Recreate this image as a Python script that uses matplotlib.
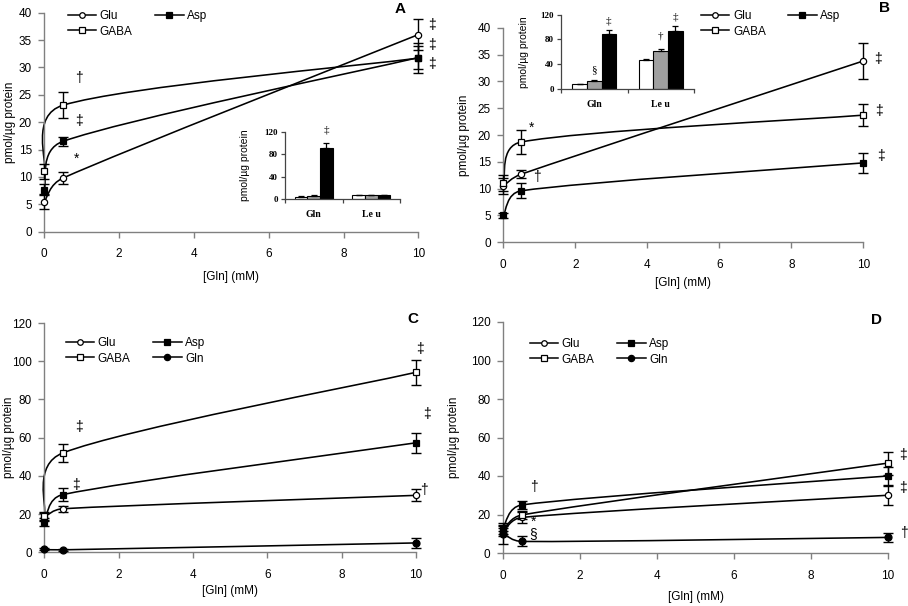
import numpy as np
import matplotlib
matplotlib.use("Agg")
import matplotlib.pyplot as plt
from matplotlib.path import Path
from matplotlib.patches import PathPatch
from matplotlib.lines import Line2D

plt.rcParams['font.family'] = ['Liberation Sans', 'DejaVu Sans']

# ---------------- data ----------------
gln_conc = [0, 0.5, 10]

A_glu = [5.5, 9.8, 36.0];   A_glu_err = [1.4, 1.1, 2.8]
A_asp = [7.7, 16.5, 31.8];  A_asp_err = [1.0, 0.8, 2.1]
A_gaba = [11.0, 23.1, 31.7]; A_gaba_err = [1.4, 2.4, 2.7]

B_glu = [10.5, 12.7, 33.8];  B_glu_err = [1.5, 0.8, 3.3]
B_asp = [5.0, 9.6, 14.8];    B_asp_err = [0.4, 1.4, 1.8]
B_gaba = [11.0, 18.7, 23.7]; B_gaba_err = [1.5, 2.3, 2.0]

C_glu = [18.5, 22.8, 29.8];  C_glu_err = [2.0, 1.5, 3.2]
C_asp = [16.0, 30.2, 57.3];  C_asp_err = [2.0, 3.4, 5.2]
C_gaba = [19.0, 52.0, 94.2]; C_gaba_err = [2.0, 4.7, 6.6]
C_gln = [1.5, 1.3, 4.9];     C_gln_err = [0.5, 0.5, 2.5]

D_glu = [11.0, 18.5, 30.0];  D_glu_err = [2.0, 2.8, 5.0]
D_asp = [13.0, 25.0, 40.0];  D_asp_err = [1.5, 2.0, 4.5]
D_gaba = [12.0, 19.8, 46.7]; D_gaba_err = [2.0, 2.0, 6.0]
D_gln = [10.0, 6.0, 8.1];    D_gln_err = [5.5, 2.6, 2.4]

inset_groups = ['Gln', 'Le u']
A_ins_white = [4.5, 7.5]; A_ins_white_err = [0.8, 0.4]
A_ins_gray = [6.0, 7.5];  A_ins_gray_err = [0.8, 0.4]
A_ins_black = [91.0, 7.5]; A_ins_black_err = [9.0, 0.4]
B_ins_white = [7.0, 47.0]; B_ins_white_err = [1.0, 1.0]
B_ins_gray = [13.0, 61.0]; B_ins_gray_err = [1.5, 3.5]
B_ins_black = [89.0, 94.0]; B_ins_black_err = [6.5, 7.0]

W, H = 908, 606
fig = plt.figure(figsize=(W / 100, H / 100), dpi=100)

SPINE = '#808080'
FS = 8.5


def rect(l, t, r, b):
    return [l / W, 1 - b / H, (r - l) / W, (b - t) / H]


def fx(px):
    return px / W


def fy(py):
    return 1 - py / H


def smooth_line(ax, x, y):
    pts = ax.transData.transform(np.column_stack([x, y]))
    n = len(pts)
    verts = [pts[0]]
    codes = [Path.MOVETO]
    for i in range(n - 1):
        p0 = pts[i - 1] if i > 0 else pts[i]
        p1 = pts[i]
        p2 = pts[i + 1]
        p3 = pts[i + 2] if i + 2 < n else pts[i + 1]
        d12 = np.linalg.norm(p2 - p1)
        d02 = np.linalg.norm(p2 - p0)
        d13 = np.linalg.norm(p3 - p1)
        f = 1 / 6 if d02 / 6 < d12 / 2 else (d12 / 2 / d02 if d02 > 0 else 0)
        f1 = 1 / 6 if d13 / 6 < d12 / 2 else (d12 / 2 / d13 if d13 > 0 else 0)
        c1 = p1 + (p2 - p0) * f
        c2 = p2 - (p3 - p1) * f1
        verts += [c1, c2, p2]
        codes += [Path.CURVE4] * 3
    verts = ax.transData.inverted().transform(np.array(verts))
    ax.add_patch(PathPatch(Path(verts, codes), fill=False, edgecolor='black',
                           lw=1.15, transform=ax.transData, clip_on=False, zorder=2))


STY = {
    'Glu': dict(marker='o', mfc='white', ms=4.5),
    'Asp': dict(marker='s', mfc='black', ms=5.0),
    'GABA': dict(marker='s', mfc='white', ms=4.8),
    'Gln': dict(marker='o', mfc='black', ms=5.0),
}


def series(ax, name, y, err):
    smooth_line(ax, gln_conc, y)
    ax.errorbar(gln_conc, y, yerr=err, fmt='none', ecolor='black', elinewidth=1.0,
                capsize=3.3, capthick=1.0, clip_on=False, zorder=3)
    s = STY[name]
    ax.plot(gln_conc, y, linestyle='none', marker=s['marker'], mfc=s['mfc'],
            mec='black', ms=s['ms'], mew=0.9, clip_on=False, zorder=4)


def setup_main(ax, ymax, ystep, xlabel_y, ylabel_x):
    ax.set_xlim(0, 10)
    ax.set_ylim(0, ymax)
    ax.set_xticks([0, 2, 4, 6, 8, 10])
    ax.set_yticks(np.arange(0, ymax + 0.1, ystep))
    ax.set_yticklabels([f"{int(v)}" for v in np.arange(0, ymax + 0.1, ystep)])
    for s in ['top', 'right']:
        ax.spines[s].set_visible(False)
    for s in ['left', 'bottom']:
        ax.spines[s].set_color(SPINE)
        ax.spines[s].set_linewidth(1.0)
    ax.tick_params(direction='out', length=4, width=1.0, color=SPINE, labelsize=FS)
    ax.tick_params(axis='x', pad=8)
    ax.tick_params(axis='y', pad=5)
    ax.set_xlabel('[Gln] (mM)', fontsize=FS)
    ax.set_ylabel('pmol/µg protein', fontsize=FS)
    pos = ax.get_position()
    xc = (pos.x0 + pos.x1) / 2
    yc = (pos.y0 + pos.y1) / 2
    ax.xaxis.set_label_coords(xc, fy(xlabel_y - 6), transform=fig.transFigure)
    ax.yaxis.set_label_coords(fx(ylabel_x + 6), yc, transform=fig.transFigure)
    ax.patch.set_visible(False)


def legend(ax, names, x, y):
    handles = []
    for nm in names:
        s = STY[nm]
        handles.append(Line2D([], [], color='black', lw=1.1, marker=s['marker'], mfc=s['mfc'],
                              mec='black', ms=s['ms'] - 0.5, mew=0.9))
    ax.legend(handles, names, ncol=2, frameon=False, fontsize=FS, loc='upper left',
              bbox_to_anchor=(x / W, 1 - y / H), bbox_transform=fig.transFigure,
              borderpad=0, borderaxespad=0, handlelength=2.4, handletextpad=0.3,
              labelspacing=0.3, columnspacing=1.9)


def annotate(ax, items, fs=10):
    for x, y, s in items:
        ax.text(x, y, s, fontsize=fs, ha='center', va='center', clip_on=False)


def inset(rc, white, werr, gray, gerr, black, berr, labels, ylabel_x):
    ax = fig.add_axes(rc)
    xs = np.arange(len(inset_groups))
    w = 0.22
    kw = dict(edgecolor='black', linewidth=0.8, error_kw=dict(elinewidth=0.9, capthick=0.9, ecolor='black'), capsize=2.5)
    z = [0, 0]
    ax.bar(xs - w, white, w, color='white', yerr=[z, werr], **kw)
    ax.bar(xs, gray, w, color='#a0a0a0', yerr=[z, gerr], **kw)
    ax.bar(xs + w, black, w, color='black', yerr=[z, berr], **kw)
    ax.set_xlim(-0.5, 1.5)
    ax.set_ylim(0, 120)
    ax.set_yticks([0, 40, 80, 120])
    ax.set_yticklabels(['0', '40', '80', '120'], family=['Liberation Serif', 'DejaVu Serif'],
                       fontweight='bold', fontsize=6.5)
    ax.set_xticks([-0.5, 0.5, 1.5])
    ax.set_xticklabels([])
    ax.set_xticks(xs, minor=True)
    ax.set_xticklabels(inset_groups, minor=True, family=['Liberation Serif', 'DejaVu Serif'],
                       fontweight='bold', fontsize=7)
    ax.tick_params(axis='x', which='minor', length=0, pad=8)
    ax.tick_params(axis='both', which='major', direction='out', length=3, width=0.9, color='#444444', pad=2)
    for s in ['top', 'right']:
        ax.spines[s].set_visible(False)
    for s in ['left', 'bottom']:
        ax.spines[s].set_color('#444444')
        ax.spines[s].set_linewidth(0.9)
    ax.set_ylabel('pmol/µg protein', fontsize=7.5)
    pos = ax.get_position()
    ax.yaxis.set_label_coords(fx(ylabel_x + 5), (pos.y0 + pos.y1) / 2, transform=fig.transFigure)
    ax.patch.set_visible(False)
    for gx, bx, y, s in labels:
        ax.text(gx + bx * w, y, s, fontsize=8, ha='center', va='center',
                family=['Liberation Serif', 'DejaVu Serif'])
    return ax


# ---------------- Panel A ----------------
axA = fig.add_axes(rect(44.3, 12.7, 418.3, 231.7))
setup_main(axA, 40, 5, 277, 10)
series(axA, 'Glu', A_glu, A_glu_err)
series(axA, 'GABA', A_gaba, A_gaba_err)
series(axA, 'Asp', A_asp, A_asp_err)
legend(axA, ['Glu', 'GABA', 'Asp'], 68, 10)
annotate(axA, [(0.93, 28.0, '†'), (0.93, 20.3, '‡'), (0.85, 13.4, '*'),
               (10.36, 37.7, '‡'), (10.36, 34.1, '‡'), (10.36, 30.6, '‡')])
fig.text(400 / W, 1 - 9 / H, 'A', fontsize=11, fontweight='bold', ha='center', va='center')
inset(rect(285, 131.7, 400, 199.3), A_ins_white, A_ins_white_err, A_ins_gray, A_ins_gray_err,
      A_ins_black, A_ins_black_err, [(0, 1, 123, '‡')], 245)

# ---------------- Panel B ----------------
axB = fig.add_axes(rect(503.3, 27.7, 863.3, 242.3))
setup_main(axB, 40, 5, 283, 464)
series(axB, 'Glu', B_glu, B_glu_err)
series(axB, 'GABA', B_gaba, B_gaba_err)
series(axB, 'Asp', B_asp, B_asp_err)
legend(axB, ['Glu', 'GABA', 'Asp'], 701, 10)
annotate(axB, [(0.79, 21.3, '*'), (0.93, 12.2, '†'),
               (10.4, 34.1, '‡'), (10.45, 24.5, '‡'), (10.5, 16.1, '‡')])
fig.text(884 / W, 1 - 8 / H, 'B', fontsize=11, fontweight='bold', ha='center', va='center')
inset(rect(561, 14.7, 694, 88.7), B_ins_white, B_ins_white_err, B_ins_gray, B_ins_gray_err,
      B_ins_black, B_ins_black_err,
      [(0, 1, 110, '‡'), (0, 0, 30, '§'), (1, 0, 86, '†'), (1, 1, 116, '‡')], 524)

# ---------------- Panel C ----------------
axC = fig.add_axes(rect(44.3, 323, 416, 552.3))
setup_main(axC, 120, 20, 591, 9)
series(axC, 'Glu', C_glu, C_glu_err)
series(axC, 'GABA', C_gaba, C_gaba_err)
series(axC, 'Asp', C_asp, C_asp_err)
series(axC, 'Gln', C_gln, C_gln_err)
legend(axC, ['Glu', 'GABA', 'Asp', 'Gln'], 66, 337)
annotate(axC, [(0.93, 65.6, '‡'), (0.86, 35.4, '‡'),
               (10.1, 106.4, '‡'), (10.3, 72.2, '‡'), (10.2, 32.8, '†')])
fig.text(413 / W, 1 - 319 / H, 'C', fontsize=11, fontweight='bold', ha='center', va='center')

# ---------------- Panel D ----------------
axD = fig.add_axes(rect(503, 322, 888, 553))
setup_main(axD, 120, 20, 597, 454)
series(axD, 'Glu', D_glu, D_glu_err)
series(axD, 'GABA', D_gaba, D_gaba_err)
series(axD, 'Asp', D_asp, D_asp_err)
series(axD, 'Gln', D_gln, D_gln_err)
legend(axD, ['Glu', 'GABA', 'Asp', 'Gln'], 530, 338)
annotate(axD, [(0.79, 34.1, '†'), (0.78, 16.3, '*'), (0.79, 9.9, '§'),
               (10.4, 51.0, '‡'), (10.4, 33.8, '‡'), (10.4, 10.4, '†')])
fig.text(876 / W, 1 - 320 / H, 'D', fontsize=11, fontweight='bold', ha='center', va='center')

fig.savefig('out.png', dpi=100)
